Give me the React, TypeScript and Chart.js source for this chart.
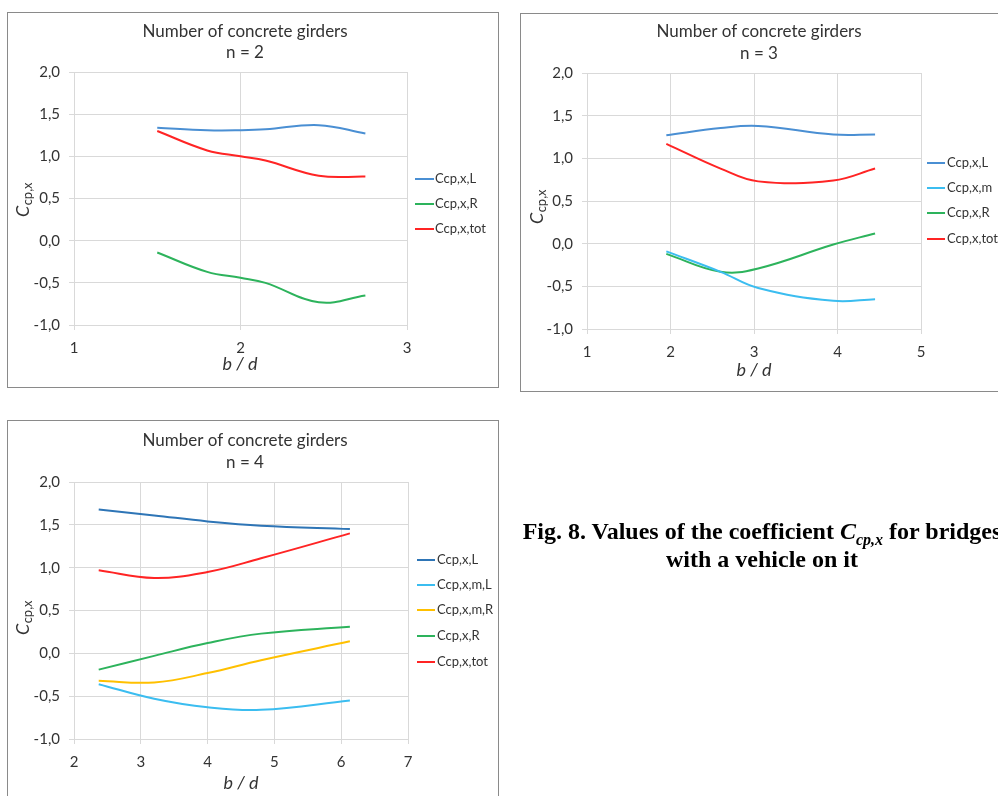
import React, { useEffect, useRef } from "react";
import { Chart, registerables } from "chart.js";

Chart.register(...registerables);

// ---- Data ----
const n2X = [1.5, 1.8, 2.0, 2.15, 2.47, 2.75];
const n2L = [1.34, 1.31, 1.31, 1.32, 1.37, 1.27];
const n2R = [-0.14, -0.37, -0.44, -0.5, -0.73, -0.65];
const n2Tot = [1.3, 1.07, 1.0, 0.95, 0.77, 0.76];

const n3X = [1.95, 2.6, 3.05, 3.95, 4.45];
const n3L = [1.27, 1.355, 1.38, 1.28, 1.28];
const n3M = [-0.09, -0.33, -0.52, -0.67, -0.65];
const n3R = [-0.12, -0.33, -0.29, -0.01, 0.12];
const n3Tot = [1.17, 0.88, 0.73, 0.74, 0.88];

const n4X = [2.37, 3.2, 4.0, 4.8, 6.13];
const n4L = [1.68, 1.61, 1.54, 1.49, 1.45];
const n4ML = [-0.36, -0.53, -0.63, -0.66, -0.55];
const n4MR = [-0.32, -0.34, -0.23, -0.08, 0.14];
const n4R = [-0.19, -0.03, 0.12, 0.23, 0.31];
const n4Tot = [0.97, 0.88, 0.95, 1.11, 1.4];

const titleLine1 = "Number of concrete girders";
const yTickMin = -1;
const yTickMax = 2;

const C_L = "#4a8fd3";
const C_L_DARK = "#2e75b6";
const C_M = "#3bbdf0";
const C_MR = "#ffc000";
const C_R = "#2db35c";
const C_TOT = "#ff2424";

const FONT = "Lato, 'Open Sans', sans-serif";
const TEXT = "#333333";

type Series = { label: string; data: number[]; color: string };

type Cfg = {
  box: { left: number; top: number; width: number; height: number };
  plot: { left: number; right: number; top: number; bottom: number };
  xs: number[];
  series: Series[];
  xMin: number;
  xMax: number;
  subtitle: string;
  titleX: number;
  titleY: [number, number];
  xTitle: [number, number];
  yTitle: [number, number];
  legend: { x0: number; x1: number; tx: number; ys: number[] };
};

const charts: Cfg[] = [
  {
    box: { left: 7, top: 12, width: 492, height: 376 },
    plot: { left: 66, right: 399, top: 59, bottom: 312 },
    xs: n2X,
    series: [
      { label: "Ccp,x,L", data: n2L, color: C_L },
      { label: "Ccp,x,R", data: n2R, color: C_R },
      { label: "Ccp,x,tot", data: n2Tot, color: C_TOT },
    ],
    xMin: 1,
    xMax: 3,
    subtitle: "n = 2",
    titleX: 237,
    titleY: [19, 40],
    xTitle: [232, 351],
    yTitle: [15, 187],
    legend: { x0: 407, x1: 426, tx: 427, ys: [166, 191, 216] },
  },
  {
    box: { left: 520, top: 13, width: 492, height: 379 },
    plot: { left: 66, right: 400, top: 59, bottom: 315 },
    xs: n3X,
    series: [
      { label: "Ccp,x,L", data: n3L, color: C_L },
      { label: "Ccp,x,m", data: n3M, color: C_M },
      { label: "Ccp,x,R", data: n3R, color: C_R },
      { label: "Ccp,x,tot", data: n3Tot, color: C_TOT },
    ],
    xMin: 1,
    xMax: 5,
    subtitle: "n = 3",
    titleX: 238,
    titleY: [18, 40],
    xTitle: [233, 356],
    yTitle: [16, 193],
    legend: { x0: 406, x1: 424, tx: 426, ys: [149, 174, 199, 225] },
  },
  {
    box: { left: 7, top: 420, width: 492, height: 400 },
    plot: { left: 66, right: 400, top: 61, bottom: 318 },
    xs: n4X,
    series: [
      { label: "Ccp,x,L", data: n4L, color: C_L_DARK },
      { label: "Ccp,x,m,L", data: n4ML, color: C_M },
      { label: "Ccp,x,m,R", data: n4MR, color: C_MR },
      { label: "Ccp,x,R", data: n4R, color: C_R },
      { label: "Ccp,x,tot", data: n4Tot, color: C_TOT },
    ],
    xMin: 2,
    xMax: 7,
    subtitle: "n = 4",
    titleX: 237,
    titleY: [20, 42],
    xTitle: [233, 362],
    yTitle: [15, 197],
    legend: { x0: 409, x1: 427, tx: 429, ys: [139, 164, 189, 215, 241] },
  },
];

const overlayPlugin = {
  id: "overlay",
  afterDraw(chart: any, _args: any, opts: any) {
    const cfg: Cfg = opts.cfg;
    const ctx = chart.ctx as CanvasRenderingContext2D;
    ctx.save();
    // titles
    ctx.fillStyle = TEXT;
    ctx.textAlign = "center";
    ctx.textBaseline = "middle";
    ctx.font = `17px ${FONT}`;
    ctx.fillText(titleLine1, cfg.titleX, cfg.titleY[0]);
    ctx.fillText(cfg.subtitle, cfg.titleX, cfg.titleY[1]);

    // x title "b / d"
    ctx.font = `italic 18px ${FONT}`;
    ctx.fillText("b / d", cfg.xTitle[0], cfg.xTitle[1]);

    // y title C + subscript cp,x (rotated)
    ctx.save();
    ctx.translate(cfg.yTitle[0], cfg.yTitle[1]);
    ctx.rotate(-Math.PI / 2);
    ctx.textAlign = "left";
    ctx.textBaseline = "alphabetic";
    ctx.font = `italic 18px ${FONT}`;
    const wC = ctx.measureText("C").width;
    ctx.font = `13px ${FONT}`;
    const wS = ctx.measureText("cp,x").width;
    const start = -(wC + wS) / 2;
    ctx.font = `italic 18px ${FONT}`;
    ctx.fillText("C", start, 6);
    ctx.font = `13px ${FONT}`;
    ctx.fillText("cp,x", start + wC + 0.5, 9);
    ctx.restore();

    // legend
    ctx.font = `13px ${FONT}`;
    ctx.textAlign = "left";
    ctx.textBaseline = "middle";
    cfg.series.forEach((s, i) => {
      const y = cfg.legend.ys[i];
      ctx.strokeStyle = s.color;
      ctx.lineWidth = 2;
      ctx.beginPath();
      ctx.moveTo(cfg.legend.x0, y);
      ctx.lineTo(cfg.legend.x1, y);
      ctx.stroke();
      ctx.fillStyle = TEXT;
      ctx.fillText(s.label, cfg.legend.tx, y);
    });
    ctx.restore();
  },
};

function ChartBox({ cfg }: { cfg: Cfg }) {
  const ref = useRef<HTMLCanvasElement | null>(null);
  const W = cfg.box.width - 2;
  const H = cfg.box.height - 2;

  useEffect(() => {
    if (!ref.current) return;
    const gridColor = "#d9d9d9";
    const chart = new Chart(ref.current, {
      type: "line",
      data: {
        datasets: cfg.series.map((s) => ({
          label: s.label,
          data: cfg.xs.map((x, i) => ({ x, y: s.data[i] })),
          borderColor: s.color,
          backgroundColor: s.color,
          borderWidth: 2,
          pointRadius: 0,
          tension: 0.4,
          fill: false,
        })),
      },
      options: {
        responsive: false,
        animation: false,
        layout: {
          padding: { top: cfg.plot.top, right: W - cfg.plot.right, left: 0, bottom: 0 },
        },
        plugins: {
          legend: { display: false },
          title: { display: false },
          tooltip: { enabled: false },
          overlay: { cfg },
        } as any,
        scales: {
          x: {
            type: "linear",
            min: cfg.xMin,
            max: cfg.xMax,
            afterFit: (scale: any) => {
              scale.height = H - cfg.plot.bottom;
            },
            ticks: {
              stepSize: 1,
              padding: 9,
              color: TEXT,
              font: { family: FONT, size: 15 },
              callback: (v: any) => String(v),
            },
            grid: { color: gridColor, tickLength: 5, drawTicks: true },
            border: { color: gridColor },
          },
          y: {
            type: "linear",
            min: yTickMin,
            max: yTickMax,
            afterFit: (scale: any) => {
              scale.width = cfg.plot.left;
            },
            ticks: {
              stepSize: 0.5,
              padding: 9,
              color: TEXT,
              font: { family: FONT, size: 15 },
              callback: (v: any) => Number(v).toFixed(1).replace(".", ","),
            },
            grid: { color: gridColor, tickLength: 5, drawTicks: true },
            border: { color: gridColor },
          },
        },
      },
      plugins: [overlayPlugin as any],
    });
    return () => chart.destroy();
  }, []);

  return (
    <div
      style={{
        position: "absolute",
        left: cfg.box.left,
        top: cfg.box.top,
        width: cfg.box.width,
        height: cfg.box.height,
        boxSizing: "border-box",
        border: "1px solid #8a8a8a",
        background: "#ffffff",
      }}
    >
      <canvas ref={ref} width={W} height={H} style={{ display: "block", width: W, height: H }} />
    </div>
  );
}

export default function App() {
  return (
    <div
      style={{
        position: "absolute",
        left: 0,
        top: 0,
        width: 998,
        height: 796,
        overflow: "hidden",
        background: "#ffffff",
      }}
    >
      {charts.map((c, i) => (
        <ChartBox key={i} cfg={c} />
      ))}
      <div
        style={{
          position: "absolute",
          left: 412,
          top: 517,
          width: 700,
          textAlign: "center",
          fontFamily: "'Liberation Serif', 'Times New Roman', serif",
          fontWeight: "bold",
          fontSize: 24,
          lineHeight: "28px",
          color: "#000",
          whiteSpace: "nowrap",
        }}
      >
        <div>
          Fig. 8. Values of the coefficient{" "}
          <i>
            C<sub style={{ fontSize: 16, lineHeight: 0 }}>cp,x</sub>
          </i>{" "}
          for bridges
        </div>
        <div>with a vehicle on it</div>
      </div>
    </div>
  );
}
